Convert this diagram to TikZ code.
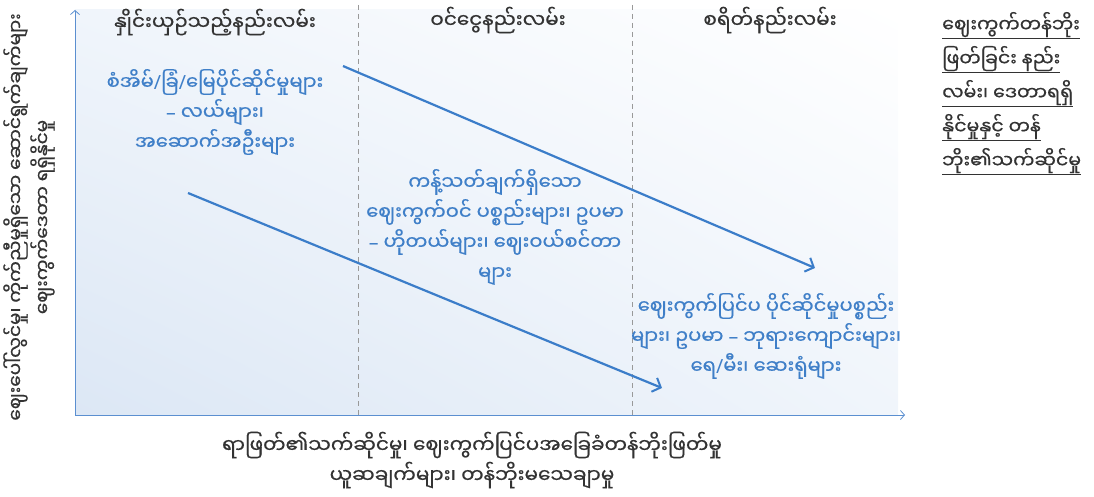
\documentclass[tikz,border=0pt]{standalone}
\usepackage{fontspec}
\usetikzlibrary{arrows.meta,shadings}
\newfontfamily\mya[Script=Myanmar,FakeBold=0.6]{Noto Sans Myanmar UI}
\newfontfamily\latn{Noto Sans}
\newcommand{\myslash}{{\latn /}}
\newcommand{\mydash}{{\latn –}}
\definecolor{txtdark}{HTML}{333333}
\definecolor{txtblue}{HTML}{3F7FC8}
\definecolor{arrblue}{HTML}{3B7DC9}
\definecolor{axblue}{HTML}{5B8FD0}
\definecolor{bgblue}{HTML}{DCE7F5}
\definecolor{bgmid}{HTML}{F0F5FB}
\tikzset{
  head/.style={font=\mya\fontsize{20}{24}\selectfont, text=txtdark, inner sep=0pt},
  bluetext/.style={font=\mya\fontsize{19.5}{30}\selectfont, text=txtblue, align=center, inner sep=0pt},
  notetext/.style={font=\mya\fontsize{19}{22}\selectfont, text=txtdark, anchor=base west, inner sep=0pt},
  axlabel/.style={font=\mya\fontsize{20}{30}\selectfont, text=txtdark, align=center, inner sep=0pt},
  ylabel/.style={font=\mya\fontsize{18.5}{27}\selectfont, text=txtdark, align=center, inner sep=0pt},
  trend/.style={draw=arrblue, line width=2.2pt, -{Straight Barb[length=7pt,width=15pt,line width=2pt]}},
  axis/.style={draw=axblue, line width=0.8pt, -{Straight Barb[length=4pt,width=9pt]}},
  divider/.style={draw=gray!80, dash pattern=on 5pt off 4pt, line width=0.6pt},
}
\begin{document}
\begin{tikzpicture}[x=1pt,y=-1pt]
\useasboundingbox (0,0) rectangle (1094,497);
% background gradient
\shade[lower left=bgblue, upper right=white, upper left=bgmid, lower right=bgmid] (75,10) rectangle (898,415);
% dividers
\coordinate (d1t) at (358,5); \coordinate (d1b) at (358,415);
\coordinate (d2t) at (632,5); \coordinate (d2b) at (632,415);
\draw[divider] (d1t) -- (d1b);
\draw[divider] (d2t) -- (d2b);
% axes
\coordinate (origin) at (75,415);
\coordinate (ytop) at (75,10);
\coordinate (xend) at (905,415);
\draw[axis] (origin) -- (ytop);
\draw[axis] (origin) -- (xend);
% headers
\node[head] (h1) at (215,22) {နှိုင်းယှဉ်သည့်နည်းလမ်း};
\node[head] (h2) at (498,20) {ဝင်ငွေနည်းလမ်း};
\node[head] (h3) at (770,20) {စရိတ်နည်းလမ်း};
% blue blocks
\node[bluetext] (b1) at (215,112) {စံအိမ်\myslash ခြံ\myslash မြေပိုင်ဆိုင်မှုများ\\\mydash{} လယ်များ၊\\အဆောက်အဦးများ};
\node[bluetext] (b2) at (495,227) {ကန့်သတ်ချက်ရှိသော\\ဈေးကွက်ဝင် ပစ္စည်းများ၊ ဥပမာ\\\mydash{} ဟိုတယ်များ၊ ဈေးဝယ်စင်တာ\\များ};
\node[bluetext] (b3) at (766,336) {ဈေးကွက်ပြင်ပ ပိုင်ဆိုင်မှုပစ္စည်း\\များ၊ ဥပမာ \mydash{} ဘုရားကျောင်းများ၊\\ရေ\myslash မီး၊ ဆေးရုံများ};
% trend arrows
\coordinate (a1s) at (343,66); \coordinate (a1e) at (815,268);
\coordinate (a2s) at (188,193); \coordinate (a2e) at (662,388);
\draw[trend] (a1s) -- (a1e);
\draw[trend] (a2s) -- (a2e);
% axis labels
\node[axlabel] (xl) at (472,460) {ရာဖြတ်၏သက်ဆိုင်မှု၊ ဈေးကွက်ပြင်ပအခြေခံတန်ဘိုးဖြတ်မှု\\ယူဆချက်များ၊ တန်ဘိုးမသေချာမှု};
\node[ylabel, rotate=90] (yl) at (29,217) {ဈေးပေါ်လွင်မှု၊ ကိုက်ညီမှုရှိသော ဆောင်ရွက်ချက်များ\\ဈေးကွက်ဒေတာ ရရှိနိုင်မှု};
% note
\node[notetext] (n1) at (942,32) {ဈေးကွက်တန်ဘိုး};
\node[notetext] (n2) at (942,66) {ဖြတ်ခြင်း နည်း};
\node[notetext] (n3) at (942,100) {လမ်း၊ ဒေတာရရှိ};
\node[notetext] (n4) at (942,134) {နိုင်မှုနှင့် တန်};
\node[notetext] (n5) at (942,168) {ဘိုး၏သက်ဆိုင်မှု};
\foreach \n in {n1,n2,n3,n4,n5}{
  \draw[txtdark, line width=0.6pt] ([yshift=-1pt]\n.south west) -- ([yshift=-1pt]\n.south east);
}
\end{tikzpicture}
\end{document}
